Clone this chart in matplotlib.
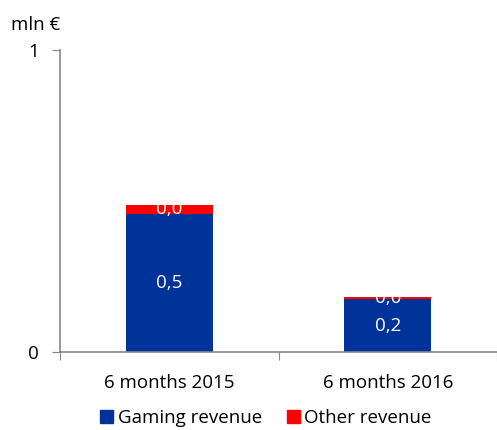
import matplotlib.pyplot as plt
from matplotlib.patches import Patch

plt.rcParams['font.family'] = ['Open Sans', 'DejaVu Sans']

categories = ['6 months 2015', '6 months 2016']
gaming = [0.457, 0.174]
other = [0.030, 0.009]
gaming_labels = ['0,5', '0,2']
other_labels = ['0,0', '0,0']

blue = '#003399'
red = '#ff0000'
grey = '#868686'
fs = 13.5

fig = plt.figure(figsize=(4.97, 4.30), dpi=100)
ax = fig.add_axes([60 / 497, 1 - 352 / 430, 437 / 497, 302 / 430])

x = range(len(categories))
ax.bar(x, gaming, width=0.4, color=blue, label='Gaming revenue')
ax.bar(x, other, width=0.4, bottom=gaming, color=red, label='Other revenue')

for i in x:
    ax.text(i, gaming[i] / 2, gaming_labels[i], ha='center', va='center',
            color='white', fontsize=fs)
    ax.text(i, gaming[i] + other[i] / 2, other_labels[i], ha='center', va='center',
            color='white', fontsize=fs)

ax.set_xlim(-0.5, 1.5)
ax.set_ylim(0, 1)
ax.set_yticks([0, 1])
ax.set_yticklabels(['0', '1'], fontsize=fs)
ax.set_xticks([-0.5, 0.5, 1.5])
ax.set_xticklabels(['', '', ''])
ax.set_xticks([0, 1], minor=True)
ax.set_xticklabels(categories, minor=True, fontsize=fs)
ax.tick_params(axis='x', which='minor', length=0, pad=16)
ax.tick_params(axis='x', which='major', length=6, color=grey, direction='out')
ax.tick_params(axis='y', length=6, color=grey, direction='out', pad=9)

for s in ['top', 'right']:
    ax.spines[s].set_visible(False)
for s in ['left', 'bottom']:
    ax.spines[s].set_color(grey)
    ax.spines[s].set_linewidth(1.2)

fig.text(11 / 497, 1 - 25 / 430, 'mln €', fontsize=fs, va='center', ha='left')

handles = [Patch(color=blue, label='Gaming revenue'), Patch(color=red, label='Other revenue')]
fig.legend(handles=handles, loc='center', bbox_to_anchor=(266 / 497, 1 - 418 / 430), ncol=2,
           frameon=False, fontsize=fs, handlelength=0.7, handleheight=0.7,
           handletextpad=0.25, columnspacing=1.3)

fig.savefig('out.png', dpi=100)
